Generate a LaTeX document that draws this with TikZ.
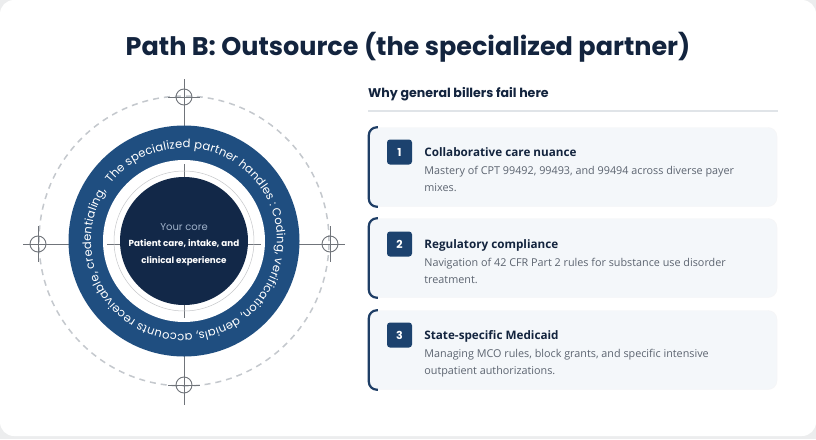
\documentclass[tikz,border=0pt]{standalone}
\usepackage{fontspec}
\setmainfont{Open Sans}
\newfontfamily\poppins{Poppins}
\usetikzlibrary{positioning,calc,decorations.text}
\definecolor{PathInk}{RGB}{19,36,62}
\definecolor{RingBlue}{RGB}{31,78,128}
\definecolor{CoreNavy}{RGB}{18,40,72}
\definecolor{CoreLabel}{RGB}{160,178,202}
\definecolor{BadgeBlue}{RGB}{28,66,110}
\definecolor{EdgeBlue}{RGB}{30,62,102}
\definecolor{CardTint}{RGB}{244,247,250}
\definecolor{DescGray}{RGB}{92,100,112}
\definecolor{HairGray}{RGB}{112,116,122}
\definecolor{DashGray}{RGB}{196,200,205}
\definecolor{RuleGray}{RGB}{224,228,232}
\definecolor{PageGray}{RGB}{236,237,238}
\tikzset{
  cardbox/.style  ={rectangle, rounded corners=9pt, fill=CardTint, draw=CardTint!80!gray!30,
                    minimum width=408pt, minimum height=79pt, inner sep=0pt},
  cardedge/.style ={draw=EdgeBlue, line width=2.2pt, rounded corners=8pt},
  badge/.style    ={rectangle, rounded corners=3pt, fill=BadgeBlue, text=white,
                    font=\poppins\bfseries\fontsize{11}{12}\selectfont,
                    minimum size=25pt, inner sep=0pt},
  ctitle/.style   ={anchor=base west, text=PathInk, inner sep=0pt,
                    font=\bfseries\fontsize{11.7}{14}\selectfont},
  cdesc/.style    ={anchor=north west, text=DescGray, inner sep=0pt, align=left,
                    font=\fontsize{10.8}{16.5}\selectfont},
  hair/.style     ={draw=HairGray, line width=.9pt},
  reticle/.style  ={circle, draw=HairGray, line width=.9pt, minimum size=16pt, inner sep=0pt},
  coredisc/.style ={circle, fill=CoreNavy, minimum size=128pt, inner sep=0pt},
  corelabel/.style={text=white, align=center, inner sep=0pt,
                    font=\poppins\fontsize{8.8}{16.5}\selectfont},
}

\begin{document}
\begin{tikzpicture}[x=1pt,y=-1pt]
  \useasboundingbox (0,0) rectangle (816,439);
  \fill[PageGray] (0,0) rectangle (816,439);
  \fill[white,rounded corners=14pt] (0,0) rectangle (816,436);

  \node[anchor=base,text=PathInk,font=\poppins\bfseries\fontsize{25.5}{30}\selectfont] (title)
    at (408,55) {Path B: Outsource (the specialized partner)};

  % ring on the left
  \coordinate (c) at (184,241);
  \draw[DashGray,line width=1.5pt,dash pattern=on 6pt off 5pt] (c) circle[radius=145pt];

  \node[reticle] (rl) at (38,244) {};
  \node[reticle] (rr) at (330,244) {};
  \node[reticle] (rt) at (184,97) {};
  \node[reticle] (rb) at (184,385) {};
  \draw[hair] ([xshift=-15pt]rl.center) -- ([xshift=15pt]rr.center);
  \draw[hair] ([yshift=18pt]rt.center) -- ([yshift=-20pt]rb.center);
  \foreach \r in {rl,rr}{\draw[hair] ([yshift=18pt]\r.center) -- ([yshift=-18pt]\r.center);}
  \foreach \r in {rt,rb}{\draw[hair] ([xshift=-16pt]\r.center) -- ([xshift=16pt]\r.center);}

  \node[circle,fill=RingBlue,minimum size=231pt,inner sep=0pt] (ring) at (c) {};
  \node[circle,fill=white,minimum size=162pt,inner sep=0pt] (gap) at (c) {};
  \draw[hair] ($(c)+(-77,3)$) -- ($(c)+(77,3)$);
  \draw[hair] ($(c)+(0,-77)$) -- ($(c)+(0,77)$);
  \draw[HairGray!40,line width=.5pt] (c) circle[radius=70pt];

  \node[coredisc] (core) at (c) {};
  \node[corelabel] (coretext) at ($(c)+(0,3.5)$)
    {{\fontsize{10}{16.5}\selectfont\textcolor{CoreLabel}{Your core}}\\
     {\bfseries Patient care, intake, and}\\
     {\bfseries clinical experience}};

  \begin{scope}[shift={(c)},x=1pt,y=1pt]
    \path[decorate,decoration={text along path,text color=white,text align={fit to path},
      text={|\poppins\fontsize{11.6}{13}\selectfont|The specialized partner handles : Coding, verification, denials, accounts receivable, credentialing,}}]
      (142:93pt) arc[start angle=142,end angle=-213,radius=93pt];
  \end{scope}

  % list on the right
  \node[anchor=base west,inner sep=0pt,text=PathInk,font=\poppins\bfseries\fontsize{12.6}{15}\selectfont]
    (why) at (368,97) {Why general billers fail here};
  \coordinate (r0) at (368,111);
  \coordinate (r1) at (778,111);
  \draw[RuleGray,line width=1.5pt] (r0) -- (r1);

  \node[cardbox] (c1) at (573,167) {};
  \node[cardbox] (c2) at (573,258) {};
  \node[cardbox] (c3) at (573,350) {};
  \foreach \k in {c1,c2,c3}{
    \draw[cardedge] ([xshift=9pt]\k.north west) -- (\k.north west) -- (\k.south west) -- ([xshift=9pt]\k.south west);
  }

  \node[badge,anchor=north west] (b1) at ($(c1.north west)+(18,12)$) {1};
  \node[badge,anchor=north west] (b2) at ($(c2.north west)+(18,13)$) {2};
  \node[badge,anchor=north west] (b3) at ($(c3.north west)+(18,12)$) {3};

  \node[ctitle] (t1) at ($(b1.east)+(12,4)$) {Collaborative care nuance};
  \node[ctitle] (t2) at ($(b2.east)+(12,4)$) {Regulatory compliance};
  \node[ctitle] (t3) at ($(b3.east)+(12,4)$) {State-specific Medicaid};

  \node[cdesc] (d1) at ($(t1.base west)+(0,10.5)$)
    {Mastery of CPT 99492, 99493, and 99494 across diverse payer\\mixes.};
  \node[cdesc] (d2) at ($(t2.base west)+(0,10.5)$)
    {Navigation of 42 CFR Part 2 rules for substance use disorder\\treatment.};
  \node[cdesc] (d3) at ($(t3.base west)+(0,10.5)$)
    {Managing MCO rules, block grants, and specific intensive\\outpatient authorizations.};
\end{tikzpicture}
\end{document}
